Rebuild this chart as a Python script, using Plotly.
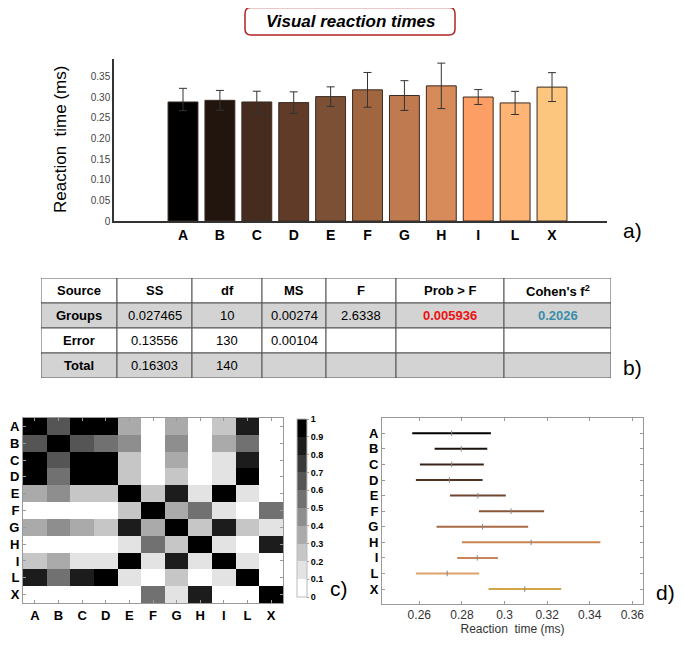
import plotly.graph_objects as go

# the page body has an 8px margin, so the figure is drawn 8px in from the corner
OFF = 8
W, H = 683 - 2 * OFF, 648 - 2 * OFF
FONT = "Arial, Liberation Sans, sans-serif"

# ---------------- data ----------------
groups = ["A", "B", "C", "D", "E", "F", "G", "H", "I", "L", "X"]
rt_mean = [0.288, 0.292, 0.288, 0.2865, 0.301, 0.3174, 0.3036, 0.327, 0.300, 0.2857, 0.324]
rt_err_up = [0.033, 0.024, 0.026, 0.026, 0.0236, 0.042, 0.036, 0.055, 0.018, 0.028, 0.035]
rt_err_down = [0.021, 0.024, 0.026, 0.026, 0.0236, 0.042, 0.036, 0.055, 0.018, 0.028, 0.035]
bar_colors = ["#000000", "#22150e", "#462c1e", "#603c28", "#7c5034", "#a06640",
              "#bf7a4f", "#d78b5b", "#fd9e64", "#fdb474", "#fdc67f"]
y_ticks = [0, 0.05, 0.10, 0.15, 0.20, 0.25, 0.30, 0.35]
y_ticktext = ["0", "0.05", "0.10", "0.15", "0.20", "0.25", "0.30", "0.35"]

tbl_header = ["Source", "SS", "df", "MS", "F", "Prob &gt; F", "Cohen's f<sup>2</sup>"]
tbl_source = ["Groups", "Error", "Total"]
tbl_ss = ["0.027465", "0.13556", "0.16303"]
tbl_df = ["10", "130", "140"]
tbl_ms = ["0.00274", "0.00104", ""]
tbl_f = ["2.6338", "", ""]
tbl_prob = ["0.005936", "", ""]
tbl_cohen = ["0.2026", "", ""]

pmatrix = [
    [0.95, 0.65, 0.95, 0.95, 0.35, 0.05, 0.35, 0.05, 0.25, 0.85, 0.05],
    [0.65, 0.95, 0.65, 0.55, 0.45, 0.05, 0.45, 0.05, 0.35, 0.55, 0.05],
    [0.95, 0.65, 0.95, 0.95, 0.25, 0.05, 0.35, 0.05, 0.15, 0.85, 0.05],
    [0.95, 0.55, 0.95, 0.95, 0.25, 0.05, 0.25, 0.05, 0.15, 0.95, 0.05],
    [0.35, 0.45, 0.25, 0.25, 0.95, 0.25, 0.85, 0.15, 0.95, 0.15, 0.05],
    [0.05, 0.05, 0.05, 0.05, 0.25, 0.95, 0.35, 0.55, 0.15, 0.05, 0.55],
    [0.35, 0.45, 0.35, 0.25, 0.85, 0.35, 0.95, 0.25, 0.85, 0.25, 0.15],
    [0.05, 0.05, 0.05, 0.05, 0.15, 0.55, 0.25, 0.95, 0.15, 0.05, 0.85],
    [0.25, 0.35, 0.15, 0.15, 0.95, 0.15, 0.85, 0.15, 0.95, 0.15, 0.05],
    [0.85, 0.55, 0.85, 0.95, 0.15, 0.05, 0.25, 0.05, 0.15, 0.95, 0.05],
    [0.05, 0.05, 0.05, 0.05, 0.05, 0.55, 0.15, 0.85, 0.05, 0.05, 0.95],
]
cbar_ticks = [0, 0.1, 0.2, 0.3, 0.4, 0.5, 0.6, 0.7, 0.8, 0.9, 1]
cbar_ticktext = ["0", "0.1", "0.2", "0.3", "0.4", "0.5", "0.6", "0.7", "0.8", "0.9", "1"]

ci_low = [0.2567, 0.2672, 0.2603, 0.2584, 0.2744, 0.2880, 0.2681, 0.2800, 0.2778, 0.2584, 0.2925]
ci_high = [0.2936, 0.2919, 0.2903, 0.2897, 0.3006, 0.3186, 0.3111, 0.3450, 0.2969, 0.2881, 0.3266]
ci_mean = [0.2752, 0.2797, 0.2752, 0.2741, 0.2875, 0.3031, 0.2897, 0.3125, 0.2872, 0.2731, 0.3095]
ci_colors = ["#000000", "#1a120c", "#3a2518", "#4e3322", "#6e4630", "#8a5638",
             "#a86a44", "#c98450", "#c8865a", "#dba36a", "#d4a548"]
d_ticks = [0.26, 0.28, 0.30, 0.32, 0.34, 0.36]
d_ticktext = ["0.26", "0.28", "0.3", "0.32", "0.34", "0.36"]


def px(x):
    return (x - OFF) / W


def py(y):
    return 1 - (y - OFF) / H


fig = go.Figure()

# ---------------- a) bar chart ----------------
fig.add_trace(go.Bar(
    x=groups, y=rt_mean, width=0.81,
    marker=dict(color=bar_colors, line=dict(color="#3a2a20", width=1)),
    error_y=dict(type="data", symmetric=False, array=rt_err_up, arrayminus=rt_err_down,
                 color="#333333", thickness=1, width=4),
    xaxis="x", yaxis="y", showlegend=False,
))

# ---------------- b) table (grid on a hidden axis) ----------------
col_widths = [76, 75, 70, 64, 70, 108, 107]
edges = [0]
for w in col_widths:
    edges.append(edges[-1] + w)
table_cols = [tbl_source, tbl_ss, tbl_df, tbl_ms, tbl_f, tbl_prob, tbl_cohen]
grey = "#d3d3d3"
row_fill = ["white", grey, "white", grey]
for r in range(4):
    for c in range(7):
        fig.add_shape(type="rect", xref="x4", yref="y4", x0=edges[c], x1=edges[c + 1],
                      y0=r, y1=r + 1, fillcolor=row_fill[r],
                      line=dict(color="#555555", width=1), layer="below")
for c in range(7):
    cx = (edges[c] + edges[c + 1]) / 2
    fig.add_annotation(text="<b>%s</b>" % tbl_header[c], x=cx, y=0.5, xref="x4", yref="y4",
                       showarrow=False, xanchor="center", yanchor="middle",
                       font=dict(family=FONT, size=13, color="black"))
    for r, val in enumerate(table_cols[c]):
        if not val:
            continue
        txt, col = val, "black"
        if c == 0:
            txt = "<b>%s</b>" % val
        elif c == 5:
            txt, col = "<b>%s</b>" % val, "#ee1111"
        elif c == 6:
            txt, col = "<b>%s</b>" % val, "#3a8ea8"
        fig.add_annotation(text=txt, x=cx, y=r + 1.5, xref="x4", yref="y4",
                           showarrow=False, xanchor="center", yanchor="middle",
                           font=dict(family=FONT, size=13, color=col))

# ---------------- c) heatmap ----------------
greys = []
for k in range(10):
    g = round((9 - k) / 9 * 255)
    c = "rgb(%d,%d,%d)" % (g, g, g)
    greys.append([k / 10, c])
    greys.append([(k + 1) / 10, c])
fig.add_trace(go.Heatmap(
    z=pmatrix, x=groups, y=groups, zmin=0, zmax=1, colorscale=greys,
    xaxis="x2", yaxis="y2",
    colorbar=dict(x=px(297), xanchor="left", y=py(508), yanchor="middle",
                  lenmode="pixels", len=178, thickness=10, outlinecolor="#bbbbbb",
                  outlinewidth=1, tickvals=cbar_ticks,
                  ticktext=["<b>%s</b>" % t for t in cbar_ticktext],
                  ticks="outside", ticklen=2, tickcolor="#999999",
                  tickfont=dict(family=FONT, size=9, color="black"), xpad=0, ypad=0),
))

# ---------------- d) intervals ----------------
for i, g in enumerate(groups):
    fig.add_trace(go.Scatter(
        x=[ci_low[i], ci_high[i]], y=[g, g], mode="lines",
        line=dict(color=ci_colors[i], width=2), xaxis="x3", yaxis="y3", showlegend=False,
    ))
fig.add_trace(go.Scatter(
    x=ci_mean, y=groups, mode="markers",
    marker=dict(symbol="line-ns", size=4, line=dict(color="#888888", width=1)),
    xaxis="x3", yaxis="y3", showlegend=False,
))

frame = dict(showline=True, linecolor="#999999", linewidth=1, mirror="ticks",
             ticks="inside", ticklen=3, tickcolor="#999999", showgrid=False,
             zeroline=False, automargin=False)

fig.update_layout(
    width=W, height=H, margin=dict(l=0, r=0, t=0, b=0, autoexpand=False),
    paper_bgcolor="white", plot_bgcolor="white", showlegend=False,
    font=dict(family=FONT, color="black"),
    xaxis=dict(domain=[px(114), px(607)], range=[-1.87, 11.49], anchor="y",
               showline=True, linecolor="#333333", linewidth=1.5, ticks="",
               tickfont=dict(family=FONT, size=14, color="black"),
               ticktext=["<b>%s</b>" % g for g in groups], tickvals=groups,
               showgrid=False, zeroline=False, automargin=False),
    yaxis=dict(domain=[py(221), py(59)], range=[0, 0.392], anchor="x",
               showline=True, linecolor="#333333", linewidth=1.5, ticks="",
               tickvals=y_ticks, ticktext=y_ticktext,
               tickfont=dict(family=FONT, size=10, color="#444444"),
               showgrid=False, zeroline=False, automargin=False),
    xaxis2=dict(domain=[px(23), px(283)], anchor="y2",
                tickvals=groups, ticktext=["<b>%s</b>" % g for g in groups],
                tickfont=dict(family=FONT, size=13, color="black"), **frame),
    yaxis2=dict(domain=[py(603), py(418)], anchor="x2", autorange="reversed",
                tickvals=groups, ticktext=["<b>%s</b>" % g for g in groups],
                tickfont=dict(family=FONT, size=13, color="black"), **frame),
    xaxis3=dict(domain=[px(382), px(643)], anchor="y3", range=[0.2425, 0.365],
                tickvals=d_ticks, ticktext=d_ticktext,
                tickfont=dict(family=FONT, size=12, color="#333333"),
                title=dict(text="Reaction\u00a0 time (ms)", standoff=2,
                           font=dict(family=FONT, size=12, color="#333333")), **frame),
    yaxis3=dict(domain=[py(604), py(418)], anchor="x3", type="category",
                categoryorder="array", categoryarray=groups, range=[10.96, -0.98],
                tickvals=groups, ticktext=["<b>%s</b>" % g for g in groups],
                tickfont=dict(family=FONT, size=13, color="black"), **frame),
    xaxis4=dict(domain=[px(41), px(611)], range=[0, edges[-1]], anchor="y4",
                visible=False, fixedrange=True),
    yaxis4=dict(domain=[py(378), py(278)], range=[4, 0], anchor="x4",
                visible=False, fixedrange=True),
)

# title box
x0, x1, y0, y1 = px(245), px(455), py(7.5), py(35)
rx, ry = 6 / W, 6 / H
path = (f"M {x0+rx},{y0} L {x1-rx},{y0} Q {x1},{y0} {x1},{y0-ry} "
        f"L {x1},{y1+ry} Q {x1},{y1} {x1-rx},{y1} L {x0+rx},{y1} "
        f"Q {x0},{y1} {x0},{y1+ry} L {x0},{y0-ry} Q {x0},{y0} {x0+rx},{y0} Z")
fig.add_shape(type="path", path=path, xref="paper", yref="paper",
              line=dict(color="#b22222", width=1.5), fillcolor="white")
fig.add_annotation(text="<b><i>Visual reaction times</i></b>", x=px(350), y=py(21),
                   xref="paper", yref="paper", showarrow=False,
                   xanchor="center", yanchor="middle",
                   font=dict(family=FONT, size=17, color="black"))

# y title of bar chart
fig.add_annotation(text="Reaction\u00a0 time (ms)", x=px(60), y=py(140), xref="paper",
                   yref="paper", showarrow=False, textangle=-90,
                   xanchor="center", yanchor="middle",
                   font=dict(family=FONT, size=17, color="black"))

# panel labels
for lab, xx, yy in [("a)", 632, 230), ("b)", 632, 367), ("c)", 339, 588), ("d)", 665, 592)]:
    fig.add_annotation(text=lab, x=px(xx), y=py(yy), xref="paper", yref="paper",
                       showarrow=False, xanchor="center", yanchor="middle",
                       font=dict(family=FONT, size=21, color="black"))

fig.write_html("out.html")
